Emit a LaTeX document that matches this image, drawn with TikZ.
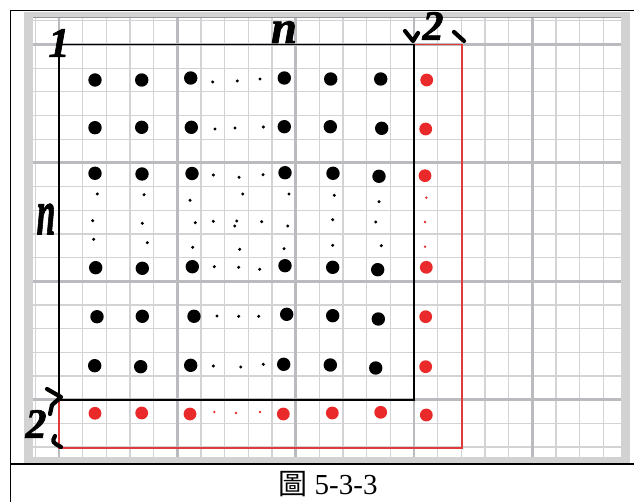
\documentclass[tikz,border=0pt]{standalone}
\usepackage{fontspec}
\setmainfont{Liberation Serif}
\newfontfamily\cjkfont{Noto Sans CJK TC}
\newfontfamily\handfont{Liberation Serif}[FakeBold=1.6]
\usetikzlibrary{positioning}
\definecolor{gridlight}{HTML}{D3D3D6}
\definecolor{gridheavy}{HTML}{BABABF}
\definecolor{panelgray}{HTML}{D2D2D2}
\definecolor{dotred}{HTML}{EA2A2A}
\definecolor{linered}{HTML}{E03A3A}

\begin{document}
\begin{tikzpicture}[x=1pt,y=-1pt,
    thingrid/.style={gridlight,line width=1.3pt},
    thickgrid/.style={gridheavy,line width=2.8pt},
    bigdot/.style={black},
    reddot/.style={dotred},
    handstroke/.style={black,line width=4.2pt,line cap=round,line join=round},
    handlabel/.style={inner sep=0pt,font=\handfont\fontsize{42}{42}\selectfont\bfseries\itshape}]
    \useasboundingbox (0,0) rectangle (634,502);
    % panel and paper
    \fill[panelgray] (24,12) rectangle (630,463);
    \fill[white] (33,18) rectangle (621,457);
    \draw[gridheavy!80!black,line width=1pt] (33,18) -- (621,18);
    \foreach \i in {-1,...,23}{
      \draw[thingrid] ({59+\i*23.67},18) -- ({59+\i*23.67},457);
    }
    \foreach \j in {-1,...,17}{
      \draw[thingrid] (33,{44.5+\j*23.67}) -- (621,{44.5+\j*23.67});
    }
    \foreach \i in {0,5,10,15,20}{
      \draw[thickgrid] ({59+\i*23.67},18) -- ({59+\i*23.67},457);
    }
    \foreach \j in {0,5,10,15}{
      \draw[thickgrid] (33,{44.5+\j*23.67}) -- (621,{44.5+\j*23.67});
    }
    % n x n and (n+2) x (n+2)
    \coordinate (blackNW) at (59,44.5);
    \coordinate (blackNE) at (414,44.5);
    \coordinate (blackSW) at (59,400);
    \coordinate (redNE) at (462,44.5);
    \coordinate (redSW) at (59,448);
    \draw[linered,line width=1.5pt] (blackNE) -- (redNE) -- (462,448) -- (redSW) -- (blackSW);
    \draw[black,line width=1.6pt] (blackNW) rectangle (414,400);
    % dots
    \foreach \x/\y in {95/80,141.7/80,190.7/78,284.3/78,330.7/79,380.7/79,
      95/127.7,141.7/127.3,191.3/127.3,284.3/126.7,330.3/126.7,381.7/128.3,
      95/173.3,142/174,192/173.5,285/172.7,333/173.3,379/176.3,
      95.7/267.7,142.3/268.3,192.3/266.7,285/265.7,332.7/267.3,377.7/269.7,
      97/316.7,142.3/316.3,194/316.3,286.7/314.3,332.7/315.7,378.3/319,
      94.7/365.7,140.7/366.7,190.7/365.3,283.7/364.3,330.3/365,375.7/368}{
      \fill[bigdot] (\x,\y) circle[radius=6.7];
    }
    \foreach \x/\y in {212.7/82,237.3/81,260/79,215/129,235/128,263.3/127,
      213.3/175,239/177.3,263/174.7,97.3/194,92.7/220.7,93.7/239.3,
      144/194.7,142.3/223.3,147.3/242.7,190/200.3,242.7/194,289/194,
      195.3/222.7,213.3/221.3,236.7/221,234.7/226,261.7/221.7,287.7/226,
      192.7/247.3,239.7/249.3,284/248.7,334.3/195.3,332.7/219.7,332.7/245.3,
      379/201.7,375.7/222,381.3/245.7,214.3/266.7,238.7/267.3,259.7/269.3,
      217/316,238.7/316.3,258.7/316.3,213.3/366,240.7/367,263.3/364.3}{
      \fill[bigdot] (\x,\y) circle[radius=1.7];
    }
    \foreach \x/\y in {426.7/80,425.7/129,425/175.7,426.3/267.3,425.7/316.7,
      425.7/366.7,95/413.3,141.7/413,190/414,283.3/414,332.3/413,380.7/412.3,
      426.3/415}{
      \fill[reddot] (\x,\y) circle[radius=6.4];
    }
    \foreach \x/\y in {426.3/197.7,425/222,425/246.7,214.3/412,236/413,260/412}{
      \fill[reddot] (\x,\y) circle[radius=1.3];
    }
    % hand marks
    \node[handlabel] (lblone) at (59,43) {1};
    \node[handlabel] (lbltopn) [scale=1.1] at (284,32) {n};
    \node[handlabel] (lblleftn) [xscale=.8,yscale=1.55] at (46,219) {n};
    \node[handlabel] (lbltwo) at (433,26) {2};
    \node[handlabel] (lbltwoprime) at (36,424) {2};
    \draw[handstroke] (405,31) -- (413,41) -- (418,33);
    \draw[handstroke] (454,32) -- (464,41);
    \draw[handstroke] (47,389) -- (61,397) -- (52,405) -- (50,414);
    \draw[handstroke] (55,436) .. controls (52,442) .. (61,447);
    % caption row
    \draw[black,line width=1.8pt] (10.5,10.5) -- (634,10.5);
    \draw[black,line width=1.8pt] (10.5,9.6) -- (10.5,502);
    \draw[black,line width=1.8pt] (10.5,464.3) -- (634,464.3);
    \node[font=\fontsize{29}{31}\selectfont] (caption) at (328,484)
      {{\cjkfont 圖} 5-3-3};
  \end{tikzpicture}
\end{document}
